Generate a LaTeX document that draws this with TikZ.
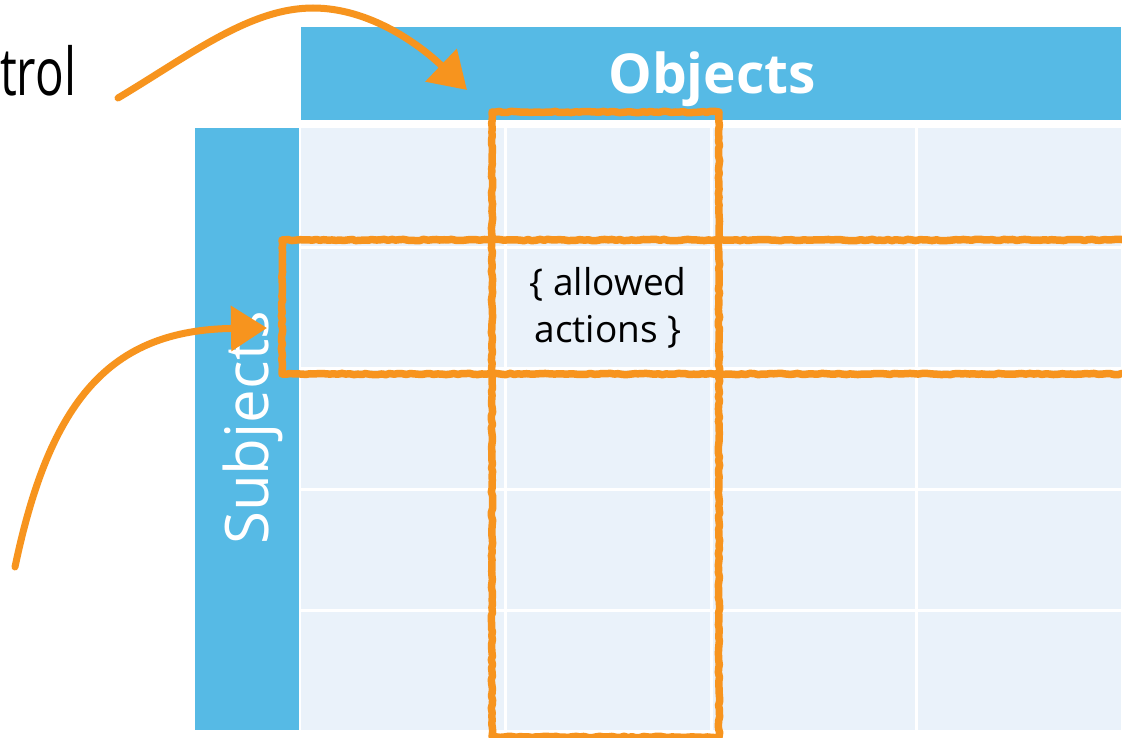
\documentclass[tikz,border=0pt]{standalone}
\usepackage{fontspec}
\setmainfont{Open Sans}
\newfontfamily\narrowsans[FakeStretch=0.72]{Open Sans}
\usetikzlibrary{arrows.meta,decorations.pathmorphing}
\definecolor{hdrblue}{RGB}{86,186,229}
\definecolor{cellblue}{RGB}{234,242,250}
\definecolor{hlorange}{RGB}{247,148,30}
\begin{document}
\begin{tikzpicture}[x=1pt,y=-1pt,
  cellbox/.style={fill=cellblue, minimum width=202.75pt, minimum height=118pt, inner sep=0pt, outer sep=0pt, draw=none},
  barbox/.style={fill=hdrblue, inner sep=0pt, outer sep=0pt, draw=none},
  hilite/.style={draw=hlorange, line width=7.5pt, line join=round, decorate,
    decoration={random steps, segment length=4pt, amplitude=0.7pt}},
  sketcharrow/.style={draw=hlorange, line width=7pt, line cap=round,
    -{Triangle[length=36pt,width=44pt]}},
]
\pgfmathsetseed{7}
\useasboundingbox (0,0) rectangle (1122,738);
\fill[white] (0,0) rectangle (1122,738);
% header and side bar
\node[barbox, minimum width=820pt, minimum height=93pt] (hdr) at (711,73.5) {};
\node[barbox, minimum width=104pt, minimum height=602pt] (bar) at (247,429) {};
% grid cells
\foreach \r in {0,...,4}{
  \foreach \c in {0,...,3}{
    \node[cellbox] (c-\r-\c) at ({301+\c*205.75+101.375},{128+\r*121+59}) {};
  }
}
% texts
\node[anchor=base, inner sep=0pt, text=white, font=\bfseries\fontsize{55}{60}\selectfont] (objtxt) at (712,94) {Objects};
\node[anchor=base, rotate=90, inner sep=0pt, text=white, font=\fontsize{60}{64}\selectfont] (subtxt) at (268,428) {Subjects};
\node[align=center, inner sep=0pt, font=\fontsize{37}{47}\selectfont] (acts) at (c-1-1) {\{ allowed\\actions \}};
\node[anchor=base west, inner sep=0pt, font=\narrowsans\fontsize{66}{70}\selectfont] (ttl) at (0,96) {trol};
% highlights
\node[hilite, minimum width=227pt, minimum height=625pt, inner sep=0pt] (colhl) at (605.5,424.5) {};
\node[hilite, minimum width=850pt, minimum height=134pt, inner sep=0pt] (rowhl) at (707,307) {};
% arrows
\coordinate (a1s) at (118,98);
\coordinate (a1p) at (313,8);
\coordinate (a1e) at (467,90);
\coordinate (a2s) at (15,567);
\coordinate (a2e) at (267,328);
\draw[sketcharrow] (a1s) .. controls (190,55) and (250,8) .. (a1p) .. controls (370,8) and (420,45) .. (a1e);
\draw[sketcharrow] (a2s) .. controls (50,400) and (110,330) .. (a2e);
\end{tikzpicture}
\end{document}
